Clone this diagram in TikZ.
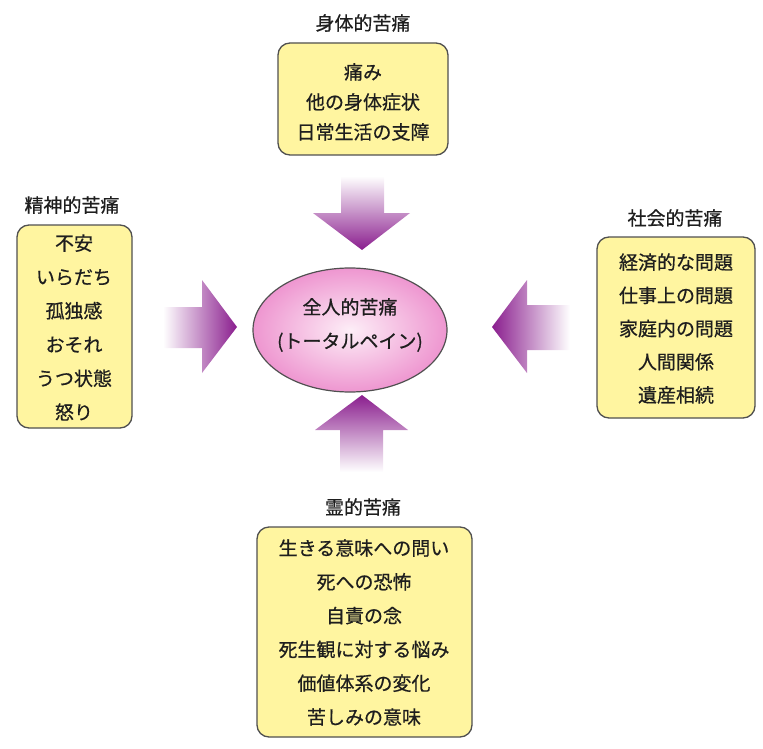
\documentclass[tikz,border=0pt]{standalone}
\usepackage{fontspec}
\setmainfont{Noto Sans CJK JP}[FakeBold=0.6,AutoFakeBold=0.6]
\usetikzlibrary{shapes.geometric}
\definecolor{boxfill}{RGB}{255,245,160}
\definecolor{boxline}{RGB}{80,80,80}
\definecolor{purp}{RGB}{138,30,142}
\definecolor{pinkin}{RGB}{253,238,247}
\definecolor{pinkout}{RGB}{238,150,208}
\definecolor{txt}{RGB}{30,30,30}
\tikzset{
  painbox/.style={draw=boxline, line width=1.3pt, fill=boxfill, rounded corners=12pt, inner sep=0pt},
  boxtext/.style={align=center, text=txt, inner sep=0pt},
  title/.style={text=txt, inner sep=0pt, font=\fontsize{19}{22}\selectfont},
}
\begin{document}
\begin{tikzpicture}[x=1pt,y=-1pt]
\useasboundingbox (0,0) rectangle (763,749);
% boxes
\node[painbox, minimum width=170pt, minimum height=112pt] (topbox) at (363,99) {};
\node[painbox, minimum width=115pt, minimum height=203pt] (leftbox) at (74.5,326.5) {};
\node[painbox, minimum width=158pt, minimum height=181pt] (rightbox) at (676,327.5) {};
\node[painbox, minimum width=215pt, minimum height=210pt] (botbox) at (364.5,632) {};
% titles
\node[title] (toptitle) at (363,23) {身体的苦痛};
\node[title] (lefttitle) at (72,205) {精神的苦痛};
\node[title] (righttitle) at (675,218) {社会的苦痛};
\node[title] (bottitle) at (363,507) {霊的苦痛};
% box texts
\node[boxtext, font=\fontsize{19}{30}\selectfont] (toptext) at (363,102) {痛み\\他の身体症状\\日常生活の支障};
\node[boxtext, font=\fontsize{19}{33.8}\selectfont] (lefttext) at (74,327.5) {不安\\いらだち\\孤独感\\おそれ\\うつ状態\\怒り};
\node[boxtext, font=\fontsize{19}{33.2}\selectfont] (righttext) at (676,328.5) {経済的な問題\\仕事上の問題\\家庭内の問題\\人間関係\\遺産相続};
\node[boxtext, font=\fontsize{19}{33.8}\selectfont] (bottext) at (364,632.5) {生きる意味への問い\\死への恐怖\\自責の念\\死生観に対する悩み\\価値体系の変化\\苦しみの意味};
% center ellipse
\shade[inner color=pinkin, outer color=pinkout] (350,330) ellipse [x radius=97pt, y radius=62pt];
\draw[boxline, line width=1.2pt] (350,330) ellipse [x radius=97pt, y radius=62pt];
\node[boxtext, font=\fontsize{19}{34}\selectfont] (center) at (350,325) {全人的苦痛\\(トータルペイン)};
% arrows
\shade[top color=white, bottom color=purp] (341,176) -- (384,176) -- (384,213) -- (410,213) -- (362,250) -- (313,213) -- (341,213) -- cycle;
\shade[top color=purp, bottom color=white] (362,395) -- (408,430) -- (383,430) -- (383,472) -- (340,472) -- (340,430) -- (315,430) -- cycle;
\shade[left color=white, right color=purp] (163,307) -- (202,307) -- (202,280) -- (237,327) -- (202,373) -- (202,348) -- (163,348) -- cycle;
\shade[left color=purp, right color=white] (492,327) -- (527,280) -- (527,305) -- (570,305) -- (570,350) -- (527,350) -- (527,373) -- cycle;
\end{tikzpicture}
\end{document}
